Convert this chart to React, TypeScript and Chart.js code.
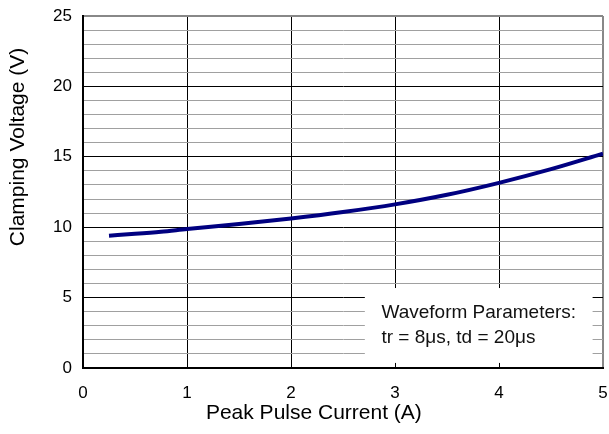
import React, { useEffect, useRef } from "react";
import { Chart, registerables } from "chart.js";

Chart.register(...registerables);

const currentA = [0.25, 0.5, 0.75, 1, 1.5, 2, 2.5, 3, 3.5, 4, 4.5, 5];
const clampV = [9.4, 9.53, 9.68, 9.87, 10.22, 10.62, 11.08, 11.62, 12.3, 13.15, 14.12, 15.22];
const xTitle = "Peak Pulse Current (A)";
const yTitle = "Clamping Voltage (V)";
const noteLines = ["Waveform Parameters:", "tr = 8μs, td = 20μs"];

const FONT = "'Liberation Sans', Arial, sans-serif";

const notePlugin = {
  id: "notePlugin",
  beforeDatasetsDraw(chart: any) {
    const { ctx, scales } = chart;
    const xs = scales.x;
    const ys = scales.y;
    const l = xs.getPixelForValue(2.71);
    const r = xs.getPixelForValue(4.9);
    const t = ys.getPixelForValue(5.68);
    const b = ys.getPixelForValue(0.36);
    ctx.save();
    ctx.fillStyle = "#ffffff";
    ctx.fillRect(l, t, r - l, b - t);
    ctx.fillStyle = "#111111";
    ctx.font = `19px ${FONT}`;
    ctx.textBaseline = "middle";
    ctx.textAlign = "left";
    const tx = xs.getPixelForValue(2.87);
    ctx.fillText(noteLines[0], tx, ys.getPixelForValue(3.9));
    ctx.fillText(noteLines[1], tx, ys.getPixelForValue(2.13));
    ctx.restore();
  },
};

const titlePlugin = {
  id: "titlePlugin",
  afterDraw(chart: any) {
    const { ctx, scales } = chart;
    const xs = scales.x;
    const ys = scales.y;
    ctx.save();
    ctx.fillStyle = "#000";
    ctx.font = `21px ${FONT}`;
    ctx.textAlign = "center";
    ctx.textBaseline = "middle";
    ctx.fillText(xTitle, xs.getPixelForValue(2.22), 413);
    ctx.translate(18, ys.getPixelForValue(15.7));
    ctx.rotate(-Math.PI / 2);
    ctx.fillText(yTitle, 0, 0);
    ctx.restore();
  },
};

export default function App() {
  const ref = useRef<HTMLCanvasElement | null>(null);
  useEffect(() => {
    document.body.style.margin = "0";
    const canvas = ref.current;
    if (!canvas) return;
    const chart = new Chart(canvas, {
      type: "line",
      data: {
        datasets: [
          {
            data: currentA.map((x, i) => ({ x, y: clampV[i] })),
            borderColor: "#000080",
            borderWidth: 4,
            pointRadius: 0,
            fill: false,
            cubicInterpolationMode: "monotone",
          },
        ],
      },
      options: {
        animation: false,
        responsive: true,
        maintainAspectRatio: false,
        layout: { padding: { top: 16, right: 6, left: 0, bottom: 0 } },
        plugins: { legend: { display: false }, tooltip: { enabled: false } },
        scales: {
          x: {
            type: "linear",
            min: 0,
            max: 5,
            ticks: {
              stepSize: 1,
              color: "#000",
              font: { family: FONT, size: 17 },
              padding: 15,
            },
            grid: {
              drawTicks: false,
              color: (c: any) =>
                c.tick.value === 0 ? "rgba(0,0,0,0)" : c.tick.value === 5 ? "#888888" : "#000000",
              lineWidth: (c: any) => (c.tick.value === 5 ? 2 : 1),
            },
            border: { display: true, color: "#000", width: 2 },
            title: { display: false },
            afterFit: (s: any) => {
              s.height = 66;
              s.paddingLeft = 0;
              s.paddingRight = 0;
            },
          },
          y: {
            type: "linear",
            min: 0,
            max: 25,
            ticks: {
              stepSize: 1,
              autoSkip: false,
              color: "#000",
              font: { family: FONT, size: 17 },
              padding: 11,
              callback: (v: any) => (Number(v) % 5 === 0 ? String(v) : ""),
            },
            grid: {
              drawTicks: false,
              color: (c: any) => {
                const v = c.tick.value;
                if (v === 0) return "rgba(0,0,0,0)";
                if (v === 25) return "#888888";
                return v % 5 === 0 ? "#000000" : "#a0a0a0";
              },
              lineWidth: (c: any) => (c.tick.value === 25 ? 2 : 1),
            },
            border: { display: true, color: "#000", width: 2 },
            title: { display: false },
            afterFit: (s: any) => {
              s.width = 83;
              s.paddingTop = 0;
              s.paddingBottom = 0;
            },
          },
        },
      },
      plugins: [notePlugin, titlePlugin],
    } as any);
    return () => chart.destroy();
  }, []);
  return (
    <div style={{ position: "relative", width: 609, height: 434 }}>
      <canvas ref={ref} />
    </div>
  );
}
